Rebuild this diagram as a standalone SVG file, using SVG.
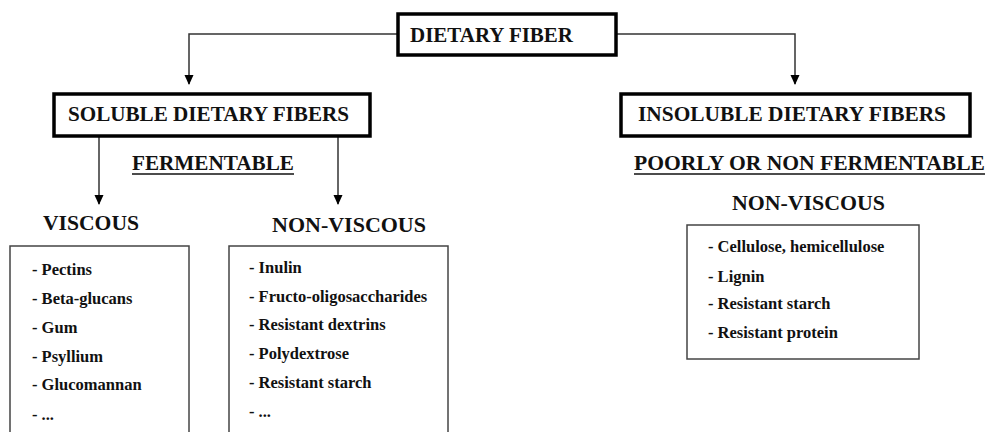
<svg xmlns="http://www.w3.org/2000/svg" width="989" height="432" viewBox="0 0 989 432">
<defs>
<style>
.bg{fill:#fff}
.main{fill:#fff;stroke:#000;stroke-width:3.5}
.list{fill:#fff;stroke:#444;stroke-width:1.5}
.conn{fill:none;stroke:#333;stroke-width:1.5}
.h{font-family:"Liberation Serif","Times New Roman",serif;font-weight:bold;font-size:20px;fill:#111}
.it{font-family:"Liberation Serif","Times New Roman",serif;font-weight:bold;font-size:16.5px;fill:#111}
.ul{stroke:#111;stroke-width:1.3}
</style>
<marker id="arr" markerWidth="10" markerHeight="11" refX="10" refY="5" orient="auto" markerUnits="userSpaceOnUse" viewBox="0 0 11 10">
<path d="M0,0 L11,5 L0,10 Z" fill="#000"/>
</marker>
</defs>
<rect class="bg" x="0" y="0" width="989" height="432"/>
<g id="connectors">
<path class="conn" d="M397,34 H189 V84" marker-end="url(#arr)"/>
<path class="conn" d="M617,34 H795 V84" marker-end="url(#arr)"/>
<path class="conn" d="M99,136 V204" marker-end="url(#arr)"/>
<path class="conn" d="M338,136 V204" marker-end="url(#arr)"/>
</g>
<g id="dietary-fiber">
<rect class="main" x="398" y="14" width="218" height="41"/>
<text class="h" x="410" y="42" textLength="163" lengthAdjust="spacingAndGlyphs">DIETARY FIBER</text>
</g>
<g id="soluble">
<rect class="main" x="54" y="94" width="316" height="42"/>
<text class="h" x="68" y="121" textLength="281" lengthAdjust="spacingAndGlyphs">SOLUBLE DIETARY FIBERS</text>
</g>
<g id="insoluble">
<rect class="main" x="621" y="94" width="349" height="42"/>
<text class="h" x="638" y="121" textLength="308" lengthAdjust="spacingAndGlyphs">INSOLUBLE DIETARY FIBERS</text>
</g>
<g id="fermentable">
<text class="h" x="132" y="170" textLength="162" lengthAdjust="spacingAndGlyphs">FERMENTABLE</text>
<line class="ul" x1="132" y1="174" x2="294" y2="174"/>
</g>
<g id="poorly-fermentable">
<text class="h" x="634" y="170" textLength="351" lengthAdjust="spacingAndGlyphs">POORLY OR NON FERMENTABLE</text>
<line class="ul" x1="634" y1="174" x2="985" y2="174"/>
</g>
<g id="viscous">
<text class="h" x="43" y="230" textLength="96" lengthAdjust="spacingAndGlyphs">VISCOUS</text>
<rect class="list" x="10" y="246" width="179" height="200"/>
<text class="it" x="32" y="275">- Pectins</text>
<text class="it" x="32" y="304">- Beta-glucans</text>
<text class="it" x="32" y="333">- Gum</text>
<text class="it" x="32" y="362">- Psyllium</text>
<text class="it" x="32" y="390">- Glucomannan</text>
<text class="it" x="32" y="420">- ...</text>
</g>
<g id="non-viscous-soluble">
<text class="h" x="272" y="232" textLength="154" lengthAdjust="spacingAndGlyphs">NON-VISCOUS</text>
<rect class="list" x="229" y="246" width="219" height="200"/>
<text class="it" x="249" y="273">- Inulin</text>
<text class="it" x="249" y="302">- Fructo-oligosaccharides</text>
<text class="it" x="249" y="330">- Resistant dextrins</text>
<text class="it" x="249" y="359">- Polydextrose</text>
<text class="it" x="249" y="388">- Resistant starch</text>
<text class="it" x="249" y="417">- ...</text>
</g>
<g id="non-viscous-insoluble">
<text class="h" x="732" y="210" textLength="153" lengthAdjust="spacingAndGlyphs">NON-VISCOUS</text>
<rect class="list" x="687" y="225" width="232" height="134"/>
<text class="it" x="708" y="252">- Cellulose, hemicellulose</text>
<text class="it" x="708" y="282">- Lignin</text>
<text class="it" x="708" y="309">- Resistant starch</text>
<text class="it" x="708" y="338">- Resistant protein</text>
</g>
</svg>
